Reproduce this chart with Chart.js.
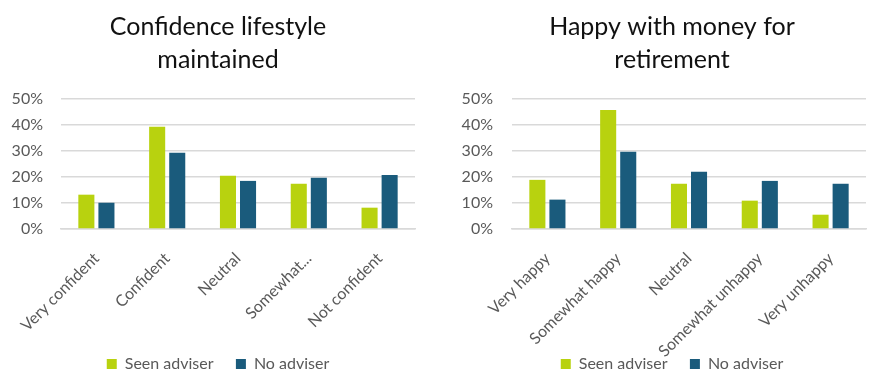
<!DOCTYPE html>
<html><head><meta charset="utf-8">
<script src="https://cdn.jsdelivr.net/npm/chart.js@4.4.0/dist/chart.umd.min.js"></script>
<style>
html,body{margin:0;background:#fff;overflow:hidden}
#wrap{position:relative;width:872px;height:378px;overflow:hidden}
#c1{position:absolute;left:0;top:0}
#c2{position:absolute;left:436px;top:0}
</style>
</head><body>
<div id="wrap"><canvas id="c1" width="436" height="378"></canvas><canvas id="c2" width="472" height="378"></canvas></div>
<script>
const seriesNames = ['Seen adviser', 'No adviser'];
const titleA = ['Confidence lifestyle', 'maintained'];
const categoriesA = ['Very confident', 'Confident', 'Neutral', 'Somewhat...', 'Not confident'];
const seenA = [13.2, 39.3, 20.5, 17.4, 8.2];
const noA = [10.1, 29.3, 18.5, 19.7, 20.8];
const titleB = ['Happy with money for', 'retirement'];
const categoriesB = ['Very happy', 'Somewhat happy', 'Neutral', 'Somewhat unhappy', 'Very unhappy'];
const seenB = [18.9, 45.8, 17.4, 10.9, 5.5];
const noB = [11.3, 29.7, 22.0, 18.5, 17.4];
const yTicks = [0, 10, 20, 30, 40, 50];

const GREEN = '#B8D20F';
const BLUE = '#1A5B7C';
const GRID = '#D9D9D9';
const TXT = '#595959';
const FONT = 'Lato';
const PAD_BOTTOM = -4;

// let rotated category labels overlap the legend row (no clipping to the axis box)
const noLabelClip = {
  id: 'noLabelClip',
  beforeDraw: ch => { ch.scales.x._computeLabelArea = () => undefined; }
};

function makeChart(id, title, cats, seen, no, lay) {
  return new Chart(document.getElementById(id), {
    type: 'bar',
    plugins: [noLabelClip],
    data: {
      labels: cats,
      datasets: [
        { label: seriesNames[0], data: seen, backgroundColor: GREEN, categoryPercentage: 0.567, barPercentage: 0.8 },
        { label: seriesNames[1], data: no, backgroundColor: BLUE, categoryPercentage: 0.567, barPercentage: 0.8 }
      ]
    },
    options: {
      responsive: false,
      animation: false,
      layout: { padding: { left: 0, right: 0, top: 0, bottom: PAD_BOTTOM } },
      plugins: {
        tooltip: { enabled: false },
        title: {
          display: true, text: title, color: '#111',
          font: { family: FONT, size: 25, weight: 'normal', lineHeight: 1.3 },
          padding: { top: 11, bottom: 23 }
        },
        legend: {
          position: 'bottom',
          labels: {
            boxWidth: 10, boxHeight: 10, color: TXT, font: { family: FONT, size: 16 }, padding: 6,
            generateLabels: ch => {
              const items = Chart.defaults.plugins.legend.labels.generateLabels(ch);
              items.forEach((it, i) => { if (i < items.length - 1) it.text = it.text + '    '; });
              return items;
            }
          }
        }
      },
      scales: {
        x: {
          grid: { display: false },
          border: { color: GRID, width: 1.5 },
          ticks: { minRotation: 45, maxRotation: 45, autoSkip: false, color: TXT, font: { family: FONT, size: 16 }, padding: 12 },
          afterFit: s => { s.height = (378 - PAD_BOTTOM) - s.chart.legend.height - 229; }
        },
        y: {
          min: 0, max: 50,
          afterBuildTicks: s => { s.ticks = yTicks.map(v => ({ value: v })); },
          ticks: { callback: v => v + '%', color: TXT, font: { family: FONT, size: 16 }, padding: lay.tickPad },
          grid: { color: GRID, lineWidth: 1.5, drawTicks: false },
          border: { display: false },
          afterFit: s => { s.width = lay.yW; }
        },
        y2: {
          type: 'linear', position: 'right', display: true,
          grid: { display: false, drawTicks: false }, border: { display: false },
          ticks: { display: false },
          afterFit: s => { s.width = lay.y2W; }
        }
      }
    }
  });
}

makeChart('c1', titleA, categoriesA, seenA, noA, { yW: 61, y2W: 21, tickPad: 18 });
makeChart('c2', titleB, categoriesB, seenB, noB, { yW: 76, y2W: 42, tickPad: 19 });
</script>
</body></html>
